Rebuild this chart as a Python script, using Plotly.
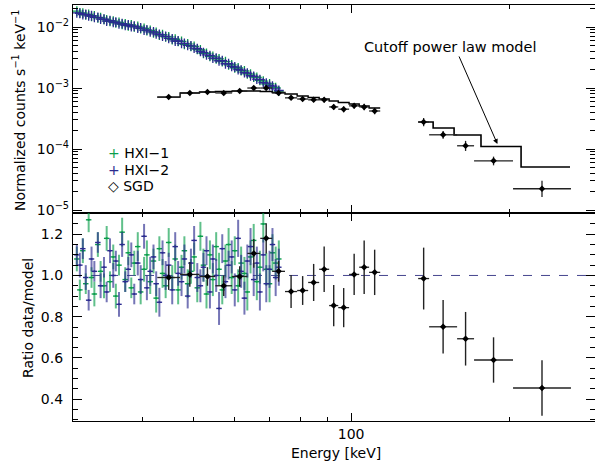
import math
import plotly.graph_objects as go
from plotly.subplots import make_subplots

GREEN = "#0a9e4b"
BLUE = "#2b2b8f"
FONT = "DejaVu Sans"

# ---------------- HXI data (energy in keV) ----------------
hxi_energy = [
    30.0, 30.4, 30.8, 31.2, 31.6, 32.0, 32.4, 32.9, 33.3, 33.8,
    34.2, 34.7, 35.2, 35.6, 36.1, 36.6, 37.1, 37.6, 38.1, 38.6,
    39.2, 39.7, 40.3, 40.8, 41.4, 42.0, 42.5, 43.1, 43.7, 44.3,
    44.9, 45.6, 46.2, 46.8, 47.5, 48.1, 48.8, 49.5, 50.2, 50.9,
    51.6, 52.3, 53.0, 53.8, 54.5, 55.3, 56.0, 56.8, 57.6, 58.4,
    59.2, 60.0, 60.9, 61.7, 62.6, 63.4, 64.3, 65.2, 66.1, 67.0,
    68.0, 68.9, 69.9, 70.8, 71.8, 72.8,
]

hxi1_counts = [
    .0182, .0171, .0169, .0158, .0161, .0150, .0152, .0141, .0142, .0133,
    .0131, .0124, .0125, .0117, .0119, .0111, .0113, .0105, .0108, .0101,
    .0102, .0094, .0095, .0087, .0088, .0080, .0082, .0074, .0075, .0069,
    .0069, .0062, .0063, .0058, .0058, .0052, .0053, .0048, .0048, .0043,
    .0042, .0037, .0037, .0033, .0033, .0030, .0030, .0027, .0027, .0024,
    .0024, .00215, .00213, .00193, .0019, .0017, .00169, .00151, .00149, .00133,
    .0013, .00116, .00117, .00104, .00101, .00089,
]

hxi2_counts = [
    .0170, .0168, .0160, .0161, .0152, .0153, .0144, .0144, .0135, .0134,
    .0125, .0127, .0119, .0120, .0113, .0114, .0107, .0108, .0102, .0103,
    .0096, .0097, .0089, .0090, .0083, .0083, .0077, .0076, .0071, .0070,
    .0065, .0064, .0059, .0059, .0054, .0054, .0050, .0049, .0045, .0044,
    .0040, .0038, .0035, .0034, .0031, .0031, .0028, .0028, .0025, .0025,
    .00226, .00221, .00201, .00197, .00179, .00175, .00159, .00155, .0014, .00137,
    .00123, .0012, .0011, .00107, .00097, .00091,
]

hxi1_ratio = [
    1.08, 0.93, 1.12, 0.96, 1.27, 0.99, 0.91, 1.15, 1.02, 0.95,
    1.18, 0.97, 1.09, 0.90, 1.05, 1.21, 0.98, 1.11, 0.94, 1.06,
    1.14, 0.92, 1.03, 1.10, 0.97, 1.07, 0.89, 1.13, 1.01, 0.95,
    1.16, 0.99, 1.08, 0.93, 1.04, 1.12, 0.96, 1.02, 1.09, 0.94,
    1.19, 1.05, 0.91, 1.10, 0.98, 1.14, 1.03, 0.93, 1.07, 1.15,
    0.99, 1.12, 0.95, 1.06, 1.01, 0.92, 1.09, 1.17, 0.97, 1.04,
    1.25, 1.03, 0.96, 1.11, 1.06, 1.08,
]

hxi2_ratio = [
    1.10, 1.05, 1.13, 0.99, 0.88, 1.08, 1.02, 1.16, 0.95, 1.04,
    0.92, 1.12, 1.00, 1.07, 0.86, 1.15, 0.97, 1.03, 1.10, 0.91,
    1.06, 0.98, 1.19, 0.94, 1.02, 1.09, 0.96, 0.87, 1.11, 1.00,
    1.05, 0.93, 1.14, 1.01, 0.97, 1.08, 0.90, 1.06, 1.17, 0.99,
    0.95, 1.04, 1.12, 0.92, 1.08, 1.00, 0.84, 1.13, 0.97, 1.05,
    1.09, 0.93, 1.18, 1.02, 0.89, 1.07, 1.14, 0.98, 1.06, 0.92,
    1.10, 0.96, 1.03, 1.15, 0.99, 1.04,
]

hxi1_ratio_err = [
    0.06, 0.05, 0.06, 0.05, 0.06, 0.05, 0.06, 0.06, 0.05, 0.06,
    0.06, 0.05, 0.06, 0.06, 0.05, 0.07, 0.06, 0.06, 0.05, 0.06,
    0.07, 0.06, 0.06, 0.07, 0.06, 0.06, 0.07, 0.06, 0.07, 0.06,
    0.07, 0.06, 0.07, 0.07, 0.06, 0.07, 0.07, 0.06, 0.07, 0.07,
    0.07, 0.08, 0.07, 0.07, 0.08, 0.07, 0.08, 0.07, 0.08, 0.08,
    0.08, 0.07, 0.08, 0.08, 0.08, 0.09, 0.08, 0.08, 0.09, 0.08,
    0.09, 0.08, 0.09, 0.09, 0.08, 0.09,
]

hxi2_ratio_err = [
    0.05, 0.06, 0.05, 0.06, 0.05, 0.06, 0.05, 0.05, 0.06, 0.05,
    0.05, 0.06, 0.06, 0.05, 0.06, 0.06, 0.05, 0.06, 0.06, 0.05,
    0.06, 0.07, 0.06, 0.06, 0.07, 0.06, 0.06, 0.07, 0.06, 0.07,
    0.06, 0.07, 0.07, 0.06, 0.07, 0.07, 0.06, 0.07, 0.07, 0.07,
    0.08, 0.07, 0.07, 0.08, 0.07, 0.08, 0.08, 0.07, 0.08, 0.07,
    0.08, 0.08, 0.09, 0.08, 0.08, 0.08, 0.09, 0.08, 0.08, 0.09,
    0.08, 0.09, 0.09, 0.08, 0.09, 0.09,
]

# ---------------- SGD data ----------------
sgd_e_lo = [42.7, 47.2, 51.4, 55.1, 59.3, 63.4, 67.1, 70.7, 74.8, 78.9, 82.8,
            86.9, 90.8, 94.5, 99.1, 103.6, 108.2, 134.2, 140.8, 159.2, 171.5, 203.5]
sgd_e_hi = [47.2, 51.4, 55.1, 59.3, 63.4, 67.1, 70.7, 74.8, 78.9, 82.8, 86.9,
            90.8, 94.5, 99.1, 103.6, 108.2, 113.6, 140.8, 159.2, 171.5, 203.5, 262.4]
sgd_counts = [7.1e-4, 8.3e-4, 8.6e-4, 8.3e-4, 8.9e-4, 1.0e-3, 1.0e-3, 8.3e-4, 6.9e-4,
              6.6e-4, 6.4e-4, 6.4e-4, 4.9e-4, 4.5e-4, 5.1e-4, 4.9e-4, 4.2e-4,
              2.77e-4, 1.71e-4, 1.13e-4, 6.4e-5, 2.23e-5]
sgd_counts_err_up = [4e-5, 4e-5, 4e-5, 4e-5, 5e-5, 5e-5, 6e-5, 5e-5, 5e-5, 5e-5, 5e-5,
                     6e-5, 5e-5, 5e-5, 5e-5, 6e-5, 5e-5, 4.5e-5, 2.7e-5, 2.3e-5, 1.1e-5, 0.8e-5]
sgd_counts_err_dn = [4e-5, 4e-5, 4e-5, 4e-5, 5e-5, 5e-5, 6e-5, 5e-5, 5e-5, 5e-5, 5e-5,
                     6e-5, 5e-5, 5e-5, 5e-5, 6e-5, 5e-5, 4.0e-5, 2.4e-5, 2.0e-5, 1.0e-5, 0.6e-5]
sgd_ratio = [0.99, 1.005, 0.995, 0.95, 0.995, 1.107, 1.18, 1.02, 0.922, 0.927, 0.966,
             1.03, 0.854, 0.844, 1.005, 1.04, 1.015, 0.985, 0.751, 0.693, 0.59, 0.454]
sgd_ratio_err = [0.06, 0.06, 0.045, 0.05, 0.05, 0.07, 0.073, 0.05, 0.08, 0.07, 0.09,
                 0.11, 0.10, 0.095, 0.10, 0.13, 0.11, 0.15, 0.13, 0.13, 0.11, 0.135]

# Cutoff power-law model (step histogram)
model_lo_edges = [42.7, 47.2, 51.4, 55.1, 59.3, 63.4, 67.1, 70.7, 74.8, 78.9, 82.8,
                  86.9, 90.8, 94.5, 99.1, 103.6, 108.2, 113.6]
model_lo_vals = [7.1e-4, 8.28e-4, 8.6e-4, 8.76e-4, 8.93e-4, 8.93e-4, 8.76e-4, 8.44e-4,
                 7.97e-4, 7.4e-4, 6.99e-4, 6.6e-4, 6.12e-4, 5.78e-4, 5.46e-4, 5.07e-4, 4.7e-4]
model_hi_edges = [134.2, 143.3, 157.1, 176.8, 210.8, 261.3]
model_hi_vals = [2.77e-4, 2.21e-4, 1.70e-4, 1.10e-4, 5.07e-5]

X_RANGE = (29.5, 291.6)
ARROW_HEAD = (190.0, 1.21e-4)
LABEL_POS = (154.0, 4.7e-3)

sgd_center = [math.sqrt(a * b) for a, b in zip(sgd_e_lo, sgd_e_hi)]
sgd_xp = [b - c for b, c in zip(sgd_e_hi, sgd_center)]
sgd_xm = [c - a for a, c in zip(sgd_e_lo, sgd_center)]

fig = make_subplots(rows=2, cols=1, shared_xaxes=True, vertical_spacing=0)

# ---- top panel ----
for counts, col in ((hxi1_counts, GREEN), (hxi2_counts, BLUE)):
    fig.add_trace(go.Scatter(
        x=hxi_energy, y=counts, mode="markers",
        marker=dict(symbol="cross-thin", size=7, line=dict(color=col, width=1.3)),
        showlegend=False, hoverinfo="skip"), row=1, col=1)

fig.add_trace(go.Scatter(
    x=model_lo_edges, y=model_lo_vals + [model_lo_vals[-1]], mode="lines",
    line=dict(shape="hv", color="black", width=1.4), showlegend=False), row=1, col=1)
fig.add_trace(go.Scatter(
    x=model_hi_edges, y=model_hi_vals + [model_hi_vals[-1]], mode="lines",
    line=dict(shape="hv", color="black", width=1.6), showlegend=False), row=1, col=1)

fig.add_trace(go.Scatter(
    x=sgd_center, y=sgd_counts, mode="markers",
    marker=dict(symbol="diamond", size=5, color="black"),
    error_x=dict(type="data", symmetric=False, array=sgd_xp, arrayminus=sgd_xm,
                 width=0, thickness=1.3, color="#222222"),
    error_y=dict(type="data", symmetric=False, array=sgd_counts_err_up,
                 arrayminus=sgd_counts_err_dn, width=0, thickness=1.3, color="#222222"),
    showlegend=False), row=1, col=1)

# ---- ratio panel ----
fig.add_shape(type="line", xref="x2 domain", x0=0, x1=1, yref="y2", y0=1, y1=1,
              line=dict(color="#45458f", width=1, dash="dash"), layer="below")

for ratio, err, col, rgba in ((hxi1_ratio, hxi1_ratio_err, GREEN, "rgba(10,158,75,0.65)"),
                              (hxi2_ratio, hxi2_ratio_err, BLUE, "rgba(43,43,143,0.65)")):
    fig.add_trace(go.Scatter(
        x=hxi_energy, y=ratio, mode="markers",
        marker=dict(size=2, color=col),
        error_x=dict(type="percent", value=1.2, width=0, thickness=1.4, color=col),
        error_y=dict(type="data", array=err, width=0, thickness=2, color=rgba),
        showlegend=False, hoverinfo="skip"), row=2, col=1)

fig.add_trace(go.Scatter(
    x=sgd_center, y=sgd_ratio, mode="markers",
    marker=dict(symbol="diamond", size=5, color="black"),
    error_x=dict(type="data", symmetric=False, array=sgd_xp, arrayminus=sgd_xm,
                 width=0, thickness=1.3, color="#222222"),
    error_y=dict(type="data", array=sgd_ratio_err, width=0, thickness=1.4, color="#222222"),
    showlegend=False), row=2, col=1)

# ---- axes ----
axis_common = dict(showline=True, linecolor="black", linewidth=1.2, mirror="ticks",
                   ticks="inside", tickcolor="black", tickwidth=1, showgrid=False,
                   zeroline=False, tickfont=dict(family=FONT, size=14, color="black"))

fig.update_xaxes(type="log", range=[math.log10(X_RANGE[0]), math.log10(X_RANGE[1])],
                 tickvals=[100], ticktext=["100"], ticklen=8,
                 minor=dict(tickvals=[40, 50, 60, 70, 80, 90, 200], ticks="inside",
                            ticklen=4, tickcolor="black"),
                 **axis_common)
fig.update_xaxes(showticklabels=False, row=1, col=1)
fig.update_xaxes(showticklabels=True, row=2, col=1)

decades = [1e-5, 1e-4, 1e-3, 1e-2]
minor_log = [m * d for d in [1e-6, 1e-5, 1e-4, 1e-3, 1e-2] for m in range(2, 10)]
fig.update_yaxes(type="log", range=[-5.049, -1.639], domain=[0.5, 1.0],
                 tickvals=decades,
                 ticktext=["10<sup>\u22125</sup>", "10<sup>\u22124</sup>",
                           "10<sup>\u22123</sup>", "10<sup>\u22122</sup>"],
                 ticklen=9,
                 minor=dict(tickvals=minor_log, ticks="inside", ticklen=5, tickcolor="black"),
                 row=1, col=1, **axis_common)
fig.update_yaxes(range=[0.294, 1.303], domain=[0.0, 0.5],
                 tickvals=[0.4, 0.6, 0.8, 1.0, 1.2], ticktext=["0.4", "0.6", "0.8", "1.0", "1.2"],
                 ticklen=9,
                 minor=dict(dtick=0.05, tick0=0, ticks="inside", ticklen=5, tickcolor="black"),
                 ticklabelstandoff=6,
                 row=2, col=1, **axis_common)

# ---- text ----
PLOT_L, PLOT_W, PLOT_B, PLOT_H = 73, 522, 421, 416


def px(x):
    return (x - PLOT_L) / PLOT_W


def py(y):
    return (PLOT_B - y) / PLOT_H


ann_font = dict(family=FONT, size=14, color="black")
annotations = [
    dict(text="Normalized counts s<sup>\u22121</sup> keV<sup>\u22121</sup>", textangle=-90,
         xref="paper", yref="paper", x=px(19), y=py(110), xanchor="center", yanchor="middle",
         showarrow=False, font=ann_font),
    dict(text="Ratio data/model", textangle=-90,
         xref="paper", yref="paper", x=px(28), y=py(318), xanchor="center", yanchor="middle",
         showarrow=False, font=ann_font),
    dict(text="Energy [keV]", xref="paper", yref="paper", x=px(336), y=py(453),
         xanchor="center", yanchor="middle", showarrow=False, font=ann_font),
    dict(text="Cutoff power law model", xref="x", yref="y",
         x=math.log10(LABEL_POS[0]), y=math.log10(LABEL_POS[1]),
         xanchor="center", yanchor="middle", showarrow=False,
         font=dict(family=FONT, size=14.5, color="black")),
    dict(text="", xref="x", yref="y",
         x=math.log10(ARROW_HEAD[0]), y=math.log10(ARROW_HEAD[1]),
         ax=-39, ay=-89, showarrow=True, arrowhead=2, arrowsize=1, arrowwidth=1,
         arrowcolor="black", standoff=0),
]
legend_items = [("+", GREEN, "HXI\u22121", 153), ("+", BLUE, "HXI\u22122", 170),
                ("\u25c7", "black", "SGD", 186)]
for sym, col, label, ypix in legend_items:
    annotations.append(dict(
        text=f"<span style='color:{col}'>{sym}</span> {label}",
        xref="paper", yref="paper", x=px(106), y=py(ypix), xanchor="left", yanchor="middle",
        showarrow=False, font=ann_font))

fig.update_layout(
    width=595, height=465,
    margin=dict(l=73, r=0, t=5, b=44),
    paper_bgcolor="white", plot_bgcolor="white",
    annotations=annotations,
    font=dict(family=FONT, size=14, color="black"),
    showlegend=False,
)

fig.write_html("out.html")
